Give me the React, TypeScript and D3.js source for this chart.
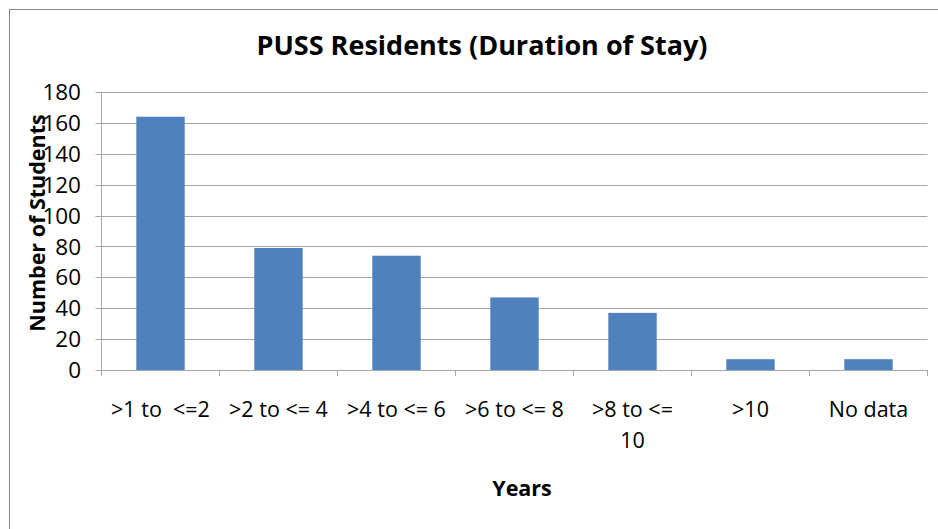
import React from 'react';
import * as d3 from 'd3';

const categories = ['>1 to  <=2', '>2 to <= 4', '>4 to <= 6', '>6 to <= 8', '>8 to <= 10', '>10', 'No data'];
const students = [164, 79, 74, 47, 37, 7, 7];
const yTicks = [0, 20, 40, 60, 80, 100, 120, 140, 160, 180];

const W = 938;
const H = 529;
const left = 101.5;
const right = 927.5;
const top = 92;
const bottom = 370;
const font = "'Open Sans', sans-serif";

// excel style wrap: break the long label once it runs past the band
const wrapLabel = (s: string) => (s === '>8 to <= 10' ? ['>8 to <=', '10'] : [s]);

const App = () => {
  const x = d3.scaleBand<string>().domain(categories).range([left, right]).paddingInner(0.59).paddingOuter(0.295);
  const y = d3.scaleLinear().domain([0, 180]).range([bottom, top]);
  const band = d3.scaleBand<string>().domain(categories).range([left, right]);

  return (
    <svg width={W} height={H} style={{ display: 'block', position: 'absolute', left: 0, top: 0 }}>
      <rect x={0} y={0} width={W} height={H} fill="#fff" />
      <rect x={9.5} y={9.5} width={W + 20} height={H + 20} fill="none" stroke="#878787" strokeWidth={1} />

      <text x={482} y={55} textAnchor="middle" fontFamily={font} fontWeight="bold" fontSize={27} fill="#000">
        PUSS Residents (Duration of Stay)
      </text>

      {yTicks.map((t) => (
        <g key={t}>
          {t > 0 && <line x1={left} x2={right} y1={Math.round(y(t)) + 0.5} y2={Math.round(y(t)) + 0.5} stroke="#a6a6a6" />}
          <line x1={left - 6} x2={left} y1={Math.round(y(t)) + 0.5} y2={Math.round(y(t)) + 0.5} stroke="#a6a6a6" />
          <text x={81} y={y(t)} dy="0.36em" textAnchor="end" fontFamily={font} fontSize={22.5} fill="#000">
            {t}
          </text>
        </g>
      ))}

      {categories.map((c, i) => (
        <rect key={c} x={x(c)} y={y(students[i])} width={x.bandwidth()} height={bottom - y(students[i])} fill="#4f81bd" />
      ))}

      <line x1={left} x2={left} y1={top} y2={bottom + 6} stroke="#a6a6a6" />
      <line x1={left} x2={right} y1={bottom + 0.5} y2={bottom + 0.5} stroke="#a6a6a6" />
      {categories.map((c) => (
        <line key={c} x1={(band(c) as number) + band.bandwidth()} x2={(band(c) as number) + band.bandwidth()} y1={bottom} y2={bottom + 6} stroke="#a6a6a6" />
      ))}

      {categories.map((c) => (
        <text key={c} x={(band(c) as number) + band.bandwidth() / 2} y={417} textAnchor="middle" fontFamily={font} fontSize={21.5} fill="#000" style={{ whiteSpace: 'pre' }}>
          {wrapLabel(c).map((l, j) => (
            <tspan key={j} x={(band(c) as number) + band.bandwidth() / 2} dy={j === 0 ? 0 : 31}>
              {l}
            </tspan>
          ))}
        </text>
      ))}

      <text x={522} y={496} textAnchor="middle" fontFamily={font} fontWeight="bold" fontSize={21.5} fill="#000">
        Years
      </text>
      <text transform="translate(45,223) rotate(-90)" textAnchor="middle" fontFamily={font} fontWeight="bold" fontSize={21.5} fill="#000">
        Number of Students
      </text>
    </svg>
  );
};

export default App;
